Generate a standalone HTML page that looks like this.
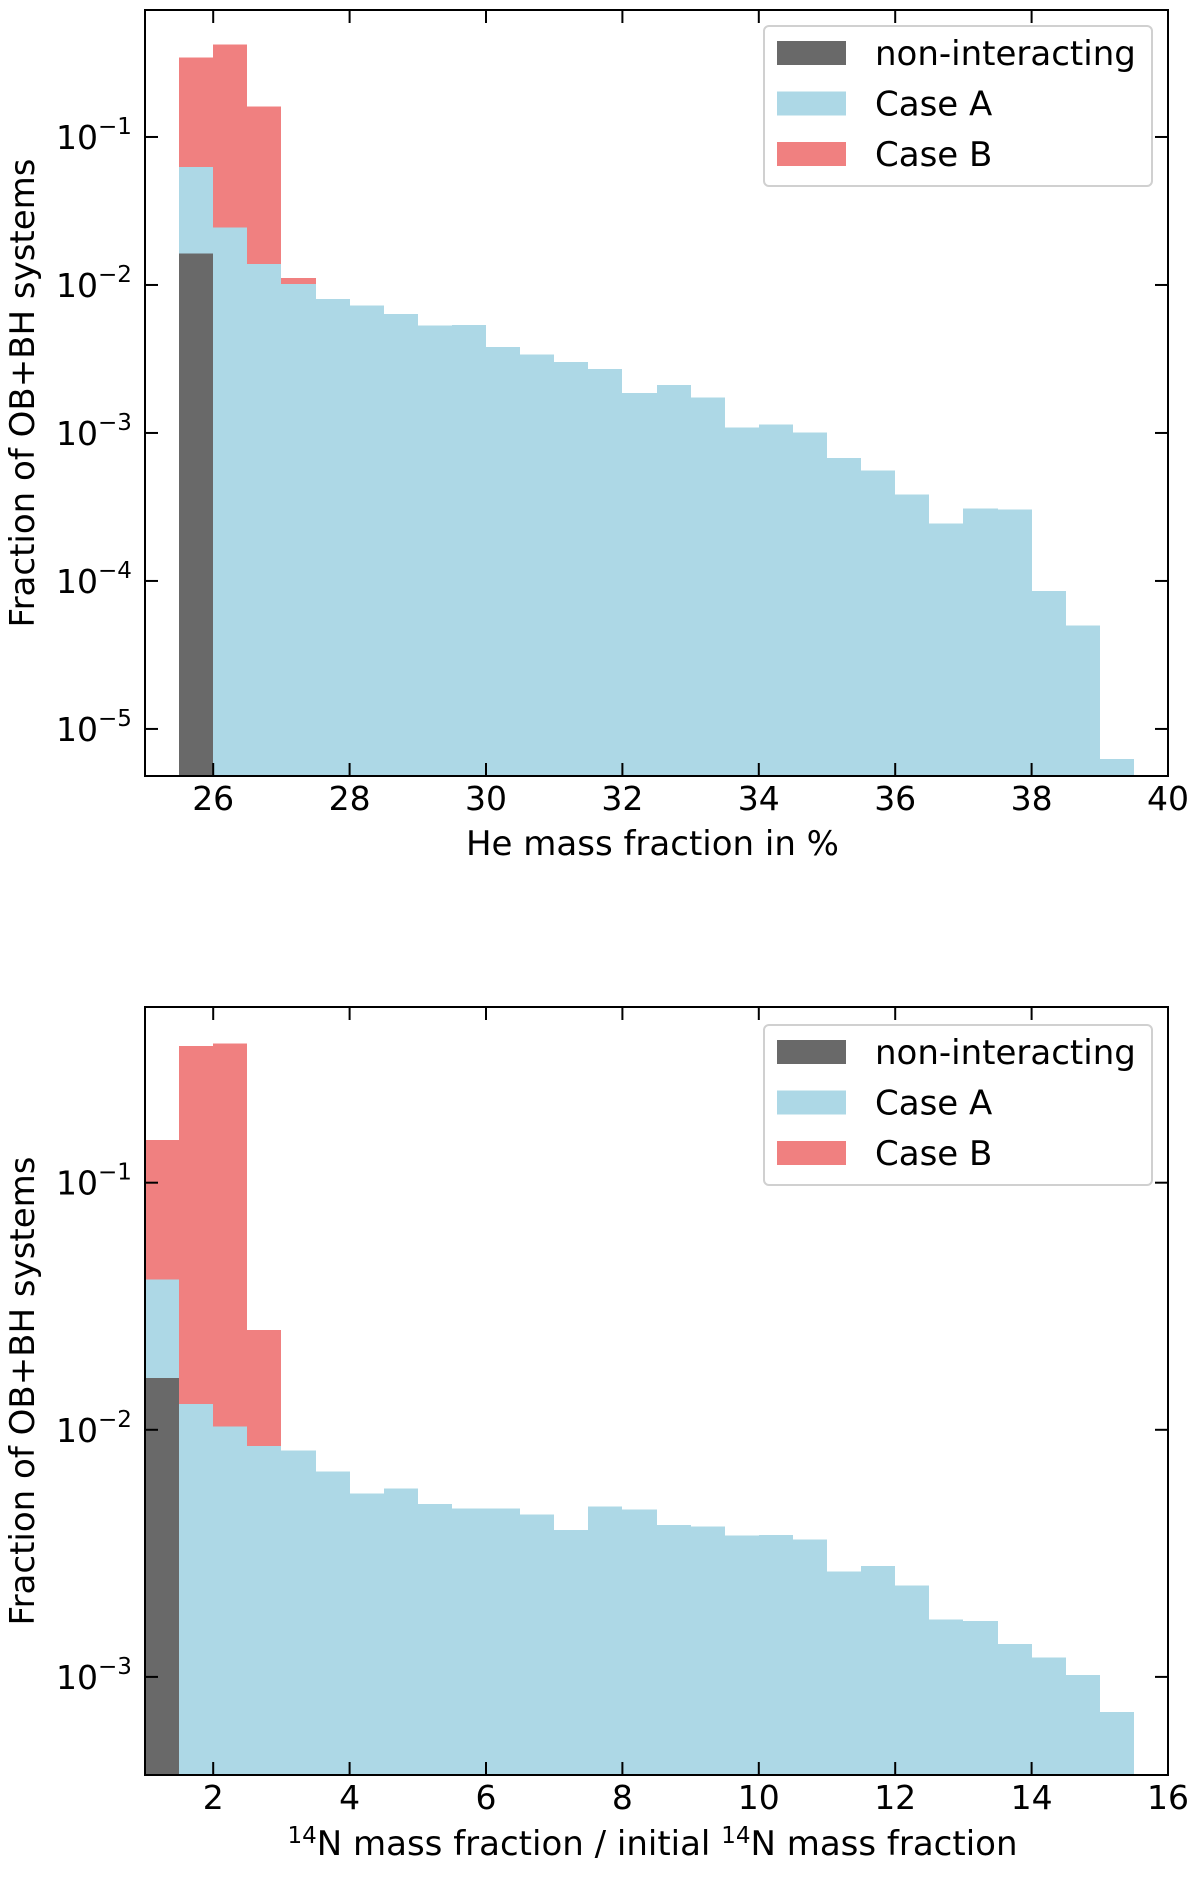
<!DOCTYPE html>
<html><head><meta charset="utf-8"><style>
body{margin:0;background:#fff}
svg{display:block;font-family:"DejaVu Sans","Liberation Sans",sans-serif}
</style></head><body>
<svg id="fig" width="1200" height="1879" viewBox="0 0 1200 1879" xmlns="http://www.w3.org/2000/svg"></svg>
<script>
// ---- Top panel data (He mass fraction) ----
const heBinStarts = [25.5,26,26.5,27,27.5,28,28.5,29,29.5,30,30.5,31,31.5,32,32.5,33,33.5,34,34.5,35,35.5,36,36.5,37,37.5,38,38.5,39];
const heNonInt = [0.0163];
const heCaseA = [0.0464,0.0244,0.01387,0.01014,0.00802,0.00727,0.00635,0.00531,0.00537,0.00381,0.00339,0.00302,0.00271,0.00186,0.00211,0.00173,0.00109,0.00114,0.00101,0.000679,0.000558,0.000383,0.000244,0.000308,0.000305,0.0000855,0.0000499,0.00000627];
const heCaseB = [0.282,0.397,0.147,0.001];
const heXTicks = [26,28,30,32,34,36,38,40];
const heYTicks = [-1,-2,-3,-4,-5];
// ---- Bottom panel data (N14 enhancement) ----
const nBinStarts = [1,1.5,2,2.5,3,3.5,4,4.5,5,5.5,6,6.5,7,7.5,8,8.5,9,9.5,10,10.5,11,11.5,12,12.5,13,13.5,14,14.5,15];
const nNonInt = [0.01622];
const nCaseA = [0.0243,0.0127,0.01033,0.0086,0.00824,0.00678,0.00552,0.0058,0.005,0.00481,0.00481,0.00455,0.00394,0.00489,0.00475,0.00412,0.00407,0.00374,0.00376,0.0036,0.00267,0.00281,0.00234,0.00171,0.00168,0.00136,0.0012,0.00102,0.000722];
const nCaseB = [0.1085,0.345,0.356,0.0168];
const nXTicks = [2,4,6,8,10,12,14,16];
const nYTicks = [-1,-2,-3];

const NS="http://www.w3.org/2000/svg";
const svg=document.getElementById('fig');
function mk(tag,attrs,parent){const e=document.createElementNS(NS,tag);for(const k in attrs)e.setAttribute(k,attrs[k]);(parent||svg).appendChild(e);return e;}

function panel(cfg){
  const g=mk('g',{});
  
  
  const L=145,R=1168,T=cfg.top,B=cfg.bottom;
  const sx=v=>L+(v-cfg.xmin)/(cfg.xmax-cfg.xmin)*(R-L);
  const sy=v=>T+(cfg.lmax-Math.log10(v))/(cfg.lmax-cfg.lmin)*(B-T);
  const bw=0.5;
  const cols={n:'#696969',a:'#add8e6',b:'#f08080'};
  const bars=mk('g',{'shape-rendering':'crispEdges'},g);
  cfg.bins.forEach((x0,i)=>{
    const n=cfg.non[i]||0,a=cfg.A[i]||0,b=cfg.B[i]||0;
    const x=Math.round(sx(x0)),w=Math.round(sx(x0+bw))-x;
    const base=B+5;
    if(b>0){const r=mk('rect',{x:x,y:sy(n+a+b),width:w,height:base-sy(n+a+b),fill:cols.b},bars);
      }
    if(a>0){const r=mk('rect',{x:x,y:sy(n+a),width:w,height:base-sy(n+a),fill:cols.a},bars);
      }
    if(n>0){const r=mk('rect',{x:x,y:sy(n),width:w,height:base-sy(n),fill:cols.n},bars);
      }
  });
  mk('rect',{x:L,y:B,width:R-L,height:6,fill:'#fff'},g);
  const fr=mk('rect',{x:L,y:T,width:R-L,height:B-T,fill:'none',stroke:'#000','stroke-width':2},g);
  
  cfg.xt.forEach(v=>{
    const x=sx(v);
    mk('line',{x1:x,x2:x,y1:B,y2:B-13,stroke:'#000','stroke-width':2},g);
    mk('line',{x1:x,x2:x,y1:T,y2:T+13,stroke:'#000','stroke-width':2},g);
    const t=mk('text',{x:x,y:B+34,'text-anchor':'middle','font-size':33},g);
    t.textContent=v;
    
  });
  cfg.yt.forEach(p=>{
    const y=sy(Math.pow(10,p));
    mk('line',{x1:L,x2:L+13,y1:y,y2:y,stroke:'#000','stroke-width':2},g);
    mk('line',{x1:R,x2:R-13,y1:y,y2:y,stroke:'#000','stroke-width':2},g);
    const t=mk('text',{x:56,y:y+12,'font-size':33},g);
    
    t.textContent='10';
    const s=mk('tspan',{dy:-15,'font-size':23},t);s.textContent='\u2212'+(-p);
  });
  const yl=mk('text',{x:0,y:0,'text-anchor':'middle','font-size':34,transform:`translate(34,${(T+B)/2}) rotate(-90)`},g);
  yl.textContent='Fraction of OB+BH systems';
  
  const xl=mk('text',{x:(L+R)/2-4,y:cfg.xlabY,'text-anchor':'middle','font-size':34},g);
  
  cfg.xlabel(xl);
  const lg=mk('g',{},g);
  
  const ly=cfg.legTop;
  mk('rect',{x:764,y:ly,width:388,height:160,rx:5,fill:'#fff','fill-opacity':0.8,stroke:'#d0d0d0','stroke-width':2},lg);
  [['non-interacting',cols.n],['Case A',cols.a],['Case B',cols.b]].forEach((e,i)=>{
    const cy=ly+27+i*50.5;
    const it=mk('g',{},lg);
    
    mk('rect',{x:777,y:cy-12,width:69,height:24,fill:e[1]},it);
    const t=mk('text',{x:875,y:cy+12,'font-size':34},it);t.textContent=e[0];
  });
}

panel({name:'he-histogram',top:10,bottom:776,xmin:25,xmax:40,lmin:-5.318,lmax:-0.142,
  bins:heBinStarts,non:heNonInt,A:heCaseA,B:heCaseB,xt:heXTicks,yt:heYTicks,xlabY:855,legTop:26,
  xlabel:t=>{t.textContent='He mass fraction in %';}});
panel({name:'n14-histogram',top:1007,bottom:1775,xmin:1,xmax:16,lmin:-3.397,lmax:-0.289,
  bins:nBinStarts,non:nNonInt,A:nCaseA,B:nCaseB,xt:nXTicks,yt:nYTicks,xlabY:1855,legTop:1025,
  xlabel:t=>{
    const a=mk('tspan',{dy:-12,'font-size':23},t);a.textContent='14';
    const b=mk('tspan',{dy:12},t);b.textContent='N mass fraction / initial ';
    const c=mk('tspan',{dy:-12,'font-size':23},t);c.textContent='14';
    const d=mk('tspan',{dy:12},t);d.textContent='N mass fraction';
  }});
</script>
</body></html>
